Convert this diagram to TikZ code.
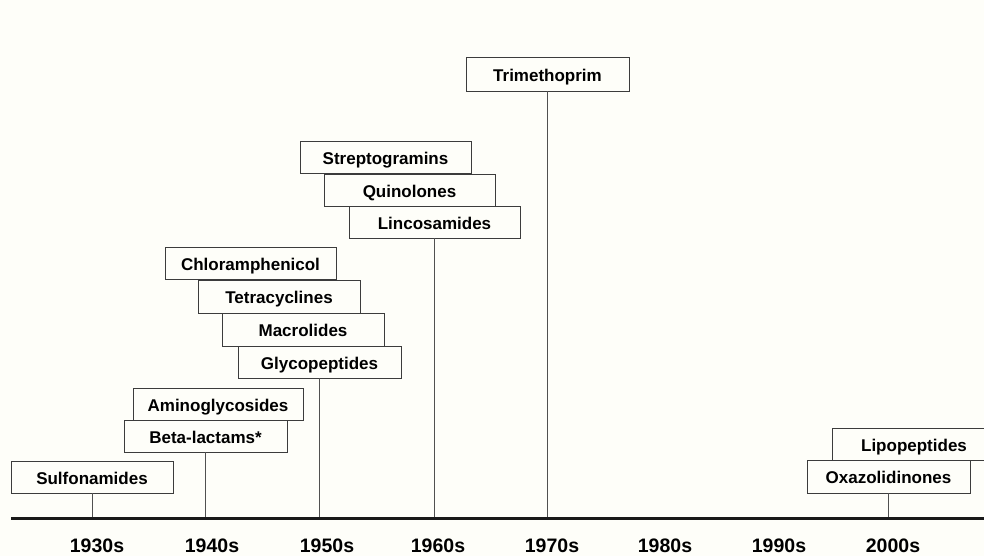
\documentclass[tikz,border=0pt]{standalone}
\usepackage{fontspec}
\setmainfont{Liberation Sans}
\definecolor{bg}{RGB}{254,254,249}
\definecolor{edge}{RGB}{60,60,60}
\begin{document}
\begin{tikzpicture}[x=1pt,y=-1pt,
  box/.style={draw=edge, line width=0.9pt, fill=bg, rectangle, inner sep=0pt,
    text height=14.6pt, text depth=0pt,
    font=\fontsize{17}{20}\selectfont\bfseries, text=black},
  stem/.style={draw=edge!90, line width=0.9pt},
  year/.style={font=\fontsize{19.5}{22}\selectfont\bfseries, text=black, inner sep=0pt}]
\fill[bg] (0,0) rectangle (984,556);
\useasboundingbox (0,0) rectangle (984,556);
% axis
\coordinate (axL) at (11,518);
\coordinate (axR) at (990,518);
% boxes
\node[box, minimum width=162pt, minimum height=32pt] (sulf) at (92,477) {Sulfonamides};
\node[box, minimum width=170pt, minimum height=32pt] (amino) at (218,404) {Aminoglycosides};
\node[box, minimum width=163pt, minimum height=32pt] (beta) at (205.5,436) {Beta-lactams*};
\node[box, minimum width=171pt, minimum height=32pt] (chlor) at (250.5,263) {Chloramphenicol};
\node[box, minimum width=162pt, minimum height=33pt] (tetra) at (279,296.5) {Tetracyclines};
\node[box, minimum width=162pt, minimum height=33pt] (macro) at (303,329.5) {Macrolides};
\node[box, minimum width=163pt, minimum height=32pt] (glyco) at (319.5,362) {Glycopeptides};
\node[box, minimum width=171pt, minimum height=32pt] (strep) at (385.5,157) {Streptogramins};
\node[box, minimum width=171pt, minimum height=32pt] (quino) at (409.5,190) {Quinolones};
\node[box, minimum width=171pt, minimum height=32pt] (linco) at (434.5,222) {Lincosamides};
\node[box, minimum width=163pt, minimum height=34pt] (trim) at (547.5,74) {Trimethoprim};
\node[box, minimum width=164pt, minimum height=32pt] (lipo) at (914,444) {Lipopeptides};
\node[box, minimum width=163pt, minimum height=33pt] (oxa) at (888.5,476.5) {Oxazolidinones};
% stems
\draw[stem] (sulf.south) -- (sulf.south |- axL);
\draw[stem] (beta.south) -- (beta.south |- axL);
\draw[stem] (glyco.south) -- (glyco.south |- axL);
\draw[stem] (linco.south) -- (linco.south |- axL);
\draw[stem] (trim.south) -- (trim.south |- axL);
\draw[stem] (oxa.south) -- (oxa.south |- axL);
\draw[line width=3pt, draw=black!90] (axL) -- (axR);
% years
\node[year] (y30) at (97,546) {1930s};
\node[year] (y40) at (212,546) {1940s};
\node[year] (y50) at (327,546) {1950s};
\node[year] (y60) at (438,546) {1960s};
\node[year] (y70) at (552,546) {1970s};
\node[year] (y80) at (665,546) {1980s};
\node[year] (y90) at (779,546) {1990s};
\node[year] (y00) at (893,546) {2000s};
\end{tikzpicture}
\end{document}
